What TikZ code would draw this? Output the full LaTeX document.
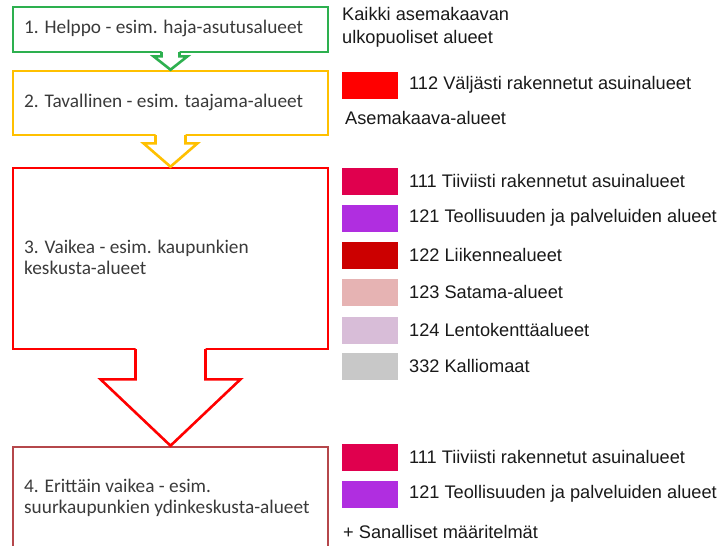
\documentclass[tikz,border=0pt]{standalone}
\usepackage{fontspec}
\setmainfont{Carlito}
\newfontfamily\legfont{Liberation Sans}
\usetikzlibrary{calc}
\definecolor{cgreen}{HTML}{2DB04F}
\definecolor{cyellow}{HTML}{FFC000}
\definecolor{cred}{HTML}{FF0000}
\definecolor{cbrown}{HTML}{B5474B}
\definecolor{ctext}{HTML}{3A3A3A}
\definecolor{sw112}{HTML}{FF0000}
\definecolor{sw111}{HTML}{E0004E}
\definecolor{sw121}{HTML}{B02EE0}
\definecolor{sw122}{HTML}{CC0000}
\definecolor{sw123}{HTML}{E6B3B3}
\definecolor{sw124}{HTML}{D8BDD8}
\definecolor{sw332}{HTML}{C8C8C8}
\tikzset{
  levelbox/.style={draw, line width=2.6pt, rectangle, minimum width=315pt, inner sep=0pt},
  boxtext/.style={anchor=west, inner sep=0pt, align=left, text=ctext, font=\fontsize{19.3}{21}\selectfont},
  swatch/.style={rectangle, minimum width=56pt, minimum height=27pt, inner sep=0pt},
  legtext/.style={anchor=west, inner sep=0pt, align=left, text=black!90, font=\legfont\fontsize{18.2}{23}\selectfont},
  blockarr/.style={line width=2.6pt, line join=miter},
}
\begin{document}
\begin{tikzpicture}[x=1pt, y=-1pt]
\useasboundingbox (0,0) rectangle (723,546);
\begin{scope}
\clip (0,0) rectangle (723,546);
% level boxes
\node[levelbox, draw=cgreen, minimum height=45pt] (b1) at (170.5,29.5) {};
\node[levelbox, draw=cyellow, minimum height=64pt] (b2) at (170.5,103) {};
\node[levelbox, draw=cred, minimum height=181pt] (b3) at (170.5,258.5) {};
\node[levelbox, draw=cbrown, minimum height=150pt] (b4) at (170.5,522) {};
% block arrow 1 (green)
\fill[white] ($(b1.south)+(-9,-3)$) -- ($(b1.south)+(-9,3)$) -- ($(b1.south)+(-17,3)$) -- (b2.north)
   -- ($(b1.south)+(17,3)$) -- ($(b1.south)+(9,3)$) -- ($(b1.south)+(9,-3)$) -- cycle;
\draw[blockarr, cgreen] ($(b1.south)+(-9,-1.3)$) -- ($(b1.south)+(-9,3)$) -- ($(b1.south)+(-17,3)$) -- (b2.north)
   -- ($(b1.south)+(17,3)$) -- ($(b1.south)+(9,3)$) -- ($(b1.south)+(9,-1.3)$);
% block arrow 2 (yellow)
\fill[white] ($(b2.south)+(-15,-3)$) -- ($(b2.south)+(-15,7)$) -- ($(b2.south)+(-27,7)$) -- (b3.north)
   -- ($(b2.south)+(27,7)$) -- ($(b2.south)+(15,7)$) -- ($(b2.south)+(15,-3)$) -- cycle;
\draw[blockarr, cyellow] ($(b2.south)+(-15,-1.3)$) -- ($(b2.south)+(-15,7)$) -- ($(b2.south)+(-27,7)$) -- (b3.north)
   -- ($(b2.south)+(27,7)$) -- ($(b2.south)+(15,7)$) -- ($(b2.south)+(15,-1.3)$);
% block arrow 3 (red)
\fill[white] ($(b3.south)+(-35,-3)$) -- ($(b3.south)+(-35,29)$) -- ($(b3.south)+(-70,29)$) -- (b4.north)
   -- ($(b3.south)+(70,29)$) -- ($(b3.south)+(35,29)$) -- ($(b3.south)+(35,-3)$) -- cycle;
\draw[blockarr, cred] ($(b3.south)+(-35,-1.3)$) -- ($(b3.south)+(-35,29)$) -- ($(b3.south)+(-70,29)$) -- (b4.north)
   -- ($(b3.south)+(70,29)$) -- ($(b3.south)+(35,29)$) -- ($(b3.south)+(35,-1.3)$);
\end{scope}
% box texts
\node[boxtext] (t1) at (24,28) {1. Helppo - esim. haja-asutusalueet};
\node[boxtext] (t2) at (24,102) {2. Tavallinen - esim. taajama-alueet};
\node[boxtext] (t3) at (24,257.5) {3. Vaikea - esim. kaupunkien\\keskusta-alueet};
\node[boxtext] (t4) at (24,497.5) {4. Erittäin vaikea - esim.\\suurkaupunkien ydinkeskusta-alueet};
% legend
\node[legtext] (h1) at (342,27.5) {Kaikki asemakaavan\\ulkopuoliset alueet};
\node[swatch, fill=sw112] (s1) at (370,85) {};
\node[legtext] (l1) at (409,85) {112 Väljästi rakennetut asuinalueet};
\node[legtext] (h2) at (345,118) {Asemakaava-alueet};
\node[swatch, fill=sw111] (s2) at (370,181) {};
\node[legtext] (l2) at (409,181) {111 Tiiviisti rakennetut asuinalueet};
\node[swatch, fill=sw121] (s3) at (370,218) {};
\node[legtext] (l3) at (409,218) {121 Teollisuuden ja palveluiden alueet};
\node[swatch, fill=sw122] (s4) at (370,255) {};
\node[legtext] (l4) at (409,255) {122 Liikennealueet};
\node[swatch, fill=sw123] (s5) at (370,292) {};
\node[legtext] (l5) at (409,292) {123 Satama-alueet};
\node[swatch, fill=sw124] (s6) at (370,330) {};
\node[legtext] (l6) at (409,330) {124 Lentokenttäalueet};
\node[swatch, fill=sw332] (s7) at (370,366) {};
\node[legtext] (l7) at (409,366) {332 Kalliomaat};
\node[swatch, fill=sw111] (s8) at (370,457) {};
\node[legtext] (l8) at (409,457) {111 Tiiviisti rakennetut asuinalueet};
\node[swatch, fill=sw121] (s9) at (370,494) {};
\node[legtext] (l9) at (409,494) {121 Teollisuuden ja palveluiden alueet};
\node[legtext] (h3) at (343,532) {+ Sanalliset määritelmät};
\end{tikzpicture}
\end{document}
